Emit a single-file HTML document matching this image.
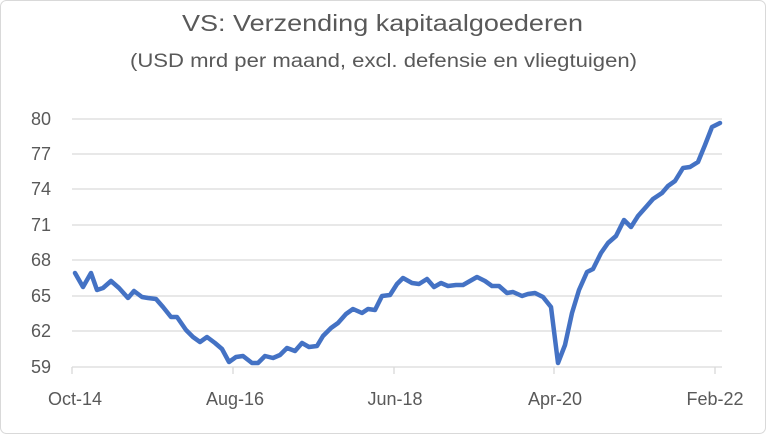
<!DOCTYPE html>
<html><head><meta charset="utf-8"><style>
body{margin:0;background:#fff}
</style></head><body>
<svg width="766" height="434" xmlns="http://www.w3.org/2000/svg" font-family="Liberation Sans, sans-serif">
<rect x="0.5" y="0.5" width="765" height="433" rx="6" fill="#fff" stroke="#d9d9d9"/>
<text x="182" y="31" font-size="23" fill="#595959" textLength="401" lengthAdjust="spacingAndGlyphs">VS: Verzending kapitaalgoederen</text>
<text x="130" y="67" font-size="19" fill="#595959" textLength="507" lengthAdjust="spacingAndGlyphs">(USD mrd per maand, excl. defensie en vliegtuigen)</text>
<g stroke="#d9d9d9" stroke-width="1.3">
<line x1="72" x2="722" y1="119" y2="119"/><line x1="72" x2="722" y1="154" y2="154"/>
<line x1="72" x2="722" y1="189" y2="189"/><line x1="72" x2="722" y1="225" y2="225"/>
<line x1="72" x2="722" y1="260" y2="260"/><line x1="72" x2="722" y1="296" y2="296"/>
<line x1="72" x2="722" y1="331" y2="331"/><line x1="72" x2="722" y1="367" y2="367"/>
<line x1="72" x2="72" y1="367" y2="374"/><line x1="233" x2="233" y1="367" y2="374"/>
<line x1="394" x2="394" y1="367" y2="374"/><line x1="554" x2="554" y1="367" y2="374"/>
<line x1="715" x2="715" y1="367" y2="374"/>
</g>
<g font-size="18" fill="#595959" text-anchor="end">
<text x="51" y="125">80</text><text x="51" y="160">77</text><text x="51" y="195">74</text>
<text x="51" y="231">71</text><text x="51" y="266">68</text><text x="51" y="302">65</text>
<text x="51" y="337">62</text><text x="51" y="373">59</text>
</g>
<g font-size="18" fill="#595959" text-anchor="middle">
<text x="75" y="405">Oct-14</text><text x="235" y="405">Aug-16</text><text x="395" y="405">Jun-18</text>
<text x="555" y="405">Apr-20</text><text x="715" y="405">Feb-22</text>
</g>
<polyline fill="none" stroke="#4472c4" stroke-width="4.5" stroke-linejoin="round" stroke-linecap="round" points="75,273 83,287 91,273 97,290 103,288 111,281 119,288 128,298 134,291 142,297 148,298 156,299 163,307 171,317 177,317 186,330 193,337 200,342 207,337 215,343 222,349 229,362 236,357 243,356 252,363 258,363 265,356 273,358 280,355 287,348 295,351 302,343 309,347 317,346 323,336 331,328 338,323 346,314 353,309 362,313 368,309 375,310 382,296 390,295 397,284 403,278 412,283 419,284 427,279 434,287 441,283 448,286 456,285 463,285 470,281 477,277 485,281 492,286 499,286 507,293 513,292 522,296 528,294 535,293 543,297 551,307 558,363 565,345 572,313 579,290 587,272 593,269 601,253 608,243 616,236 624,220 631,227 638,216 646,207 653,199 662,193 668,186 675,181 683,168 690,167 698,162 705,145 712,127 720,123"/>
</svg>
</body></html>
